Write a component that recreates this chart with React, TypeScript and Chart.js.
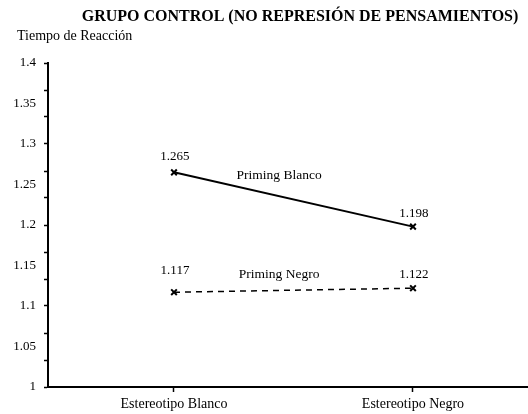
import React, { useEffect, useRef } from "react";
import { Chart, registerables } from "chart.js";

Chart.register(...registerables);

const chartTitle = "GRUPO CONTROL (NO REPRESIÓN DE PENSAMIENTOS)";
const yAxisTitle = "Tiempo de Reacción";
const categories = ["Estereotipo Blanco", "Estereotipo Negro"];
const seriesNames = ["Priming Blanco", "Priming Negro"];
const primingBlanco = [1.265, 1.198];
const primingNegro = [1.117, 1.122];
const yLabelTicks = [1, 1.05, 1.1, 1.15, 1.2, 1.25, 1.3, 1.35, 1.4];
const yMin = 1;
const yMax = 1.4;
const yMarkCount = 12;

const FONT = '"Liberation Serif", "Times New Roman", serif';

const near = (a: number, b: number) => Math.abs(a - b) < 1e-6;
const isLabelTick = (v: number) => yLabelTicks.some((t) => near(t, v));
const isMarkTick = (v: number) => {
  for (let i = 0; i <= yMarkCount; i++) {
    if (near(yMin + (i * (yMax - yMin)) / yMarkCount, v)) return true;
  }
  return false;
};

const labelPlugin = {
  id: "labelPlugin",
  afterDatasetsDraw(chart: any) {
    const ctx = chart.ctx;
    ctx.save();
    ctx.fillStyle = "#000";
    ctx.textBaseline = "middle";

    ctx.font = `bold 16px ${FONT}`;
    ctx.textAlign = "center";
    ctx.fillText(chartTitle, 300, 17);

    ctx.font = `14px ${FONT}`;
    ctx.textAlign = "left";
    ctx.fillText(yAxisTitle, 17, 36);

    const valueOffsets = [
      [16, 13],
      [22, 14],
    ];
    const nameOffsets = [21, 16];
    const nameFrac = 0.44;
    const xs = chart.scales.x;
    const ys = chart.scales.y;

    chart.data.datasets.forEach((ds: any, di: number) => {
      const meta = chart.getDatasetMeta(di);
      ctx.font = `13px ${FONT}`;
      ctx.textAlign = "center";
      meta.data.forEach((pt: any, i: number) => {
        const v = ds.data[i].y;
        ctx.fillText(v.toFixed(3), pt.x + 1, pt.y - valueOffsets[di][i]);
      });
      const d = ds.data;
      const interp = d[0].y + (d[1].y - d[0].y) * nameFrac;
      const px = xs.getPixelForValue(d[0].x + (d[1].x - d[0].x) * nameFrac);
      const py = ys.getPixelForValue(interp) - nameOffsets[di];
      ctx.font = `13.5px ${FONT}`;
      ctx.fillText(ds.label, px, py);
    });
    ctx.restore();
  },
};

export default function App() {
  const ref = useRef<HTMLCanvasElement | null>(null);

  useEffect(() => {
    document.body.style.margin = "0";
    const canvas = ref.current;
    if (!canvas) return;

    const toPoints = (vals: number[]) => vals.map((v, i) => ({ x: i, y: v }));

    const chart = new Chart(canvas, {
      type: "line",
      data: {
        datasets: [
          {
            label: seriesNames[0],
            data: toPoints(primingBlanco),
            borderColor: "#000",
            backgroundColor: "#000",
            borderWidth: 2,
            pointStyle: "crossRot",
            pointRadius: 4,
            pointBorderWidth: 2,
            pointBorderColor: "#000",
            fill: false,
          },
          {
            label: seriesNames[1],
            data: toPoints(primingNegro),
            borderColor: "#000",
            backgroundColor: "#000",
            borderWidth: 1.5,
            borderDash: [6, 5],
            pointStyle: "crossRot",
            pointRadius: 4,
            pointBorderWidth: 2,
            pointBorderColor: "#000",
            fill: false,
          },
        ],
      },
      options: {
        animation: false,
        responsive: false,
        maintainAspectRatio: false,
        layout: { autoPadding: false, padding: { top: 63, left: 0, right: 0, bottom: 0 } },
        plugins: {
          legend: { display: false },
          title: { display: false },
          tooltip: { enabled: false },
        },
        scales: {
          x: {
            type: "linear",
            min: -0.5272,
            max: 1.4812,
            afterBuildTicks: (scale: any) => {
              scale.ticks = categories.map((_, i) => ({ value: i }));
            },
            afterFit: (scale: any) => {
              scale.height = 27;
            },
            ticks: {
              autoSkip: false,
              maxRotation: 0,
              padding: 4,
              color: "#000",
              font: { family: FONT, size: 14 },
              callback: (v: any) => categories[Math.round(Number(v))] ?? "",
            },
            grid: {
              display: true,
              drawOnChartArea: false,
              drawTicks: true,
              tickLength: 5,
              tickWidth: 1.5,
              tickColor: "#000",
            },
            border: { display: true, color: "#000", width: 2 },
          },
          y: {
            type: "linear",
            min: yMin,
            max: yMax,
            afterBuildTicks: (scale: any) => {
              const vals: number[] = [...yLabelTicks];
              for (let i = 0; i <= yMarkCount; i++) {
                const v = yMin + (i * (yMax - yMin)) / yMarkCount;
                if (!vals.some((t) => near(t, v))) vals.push(v);
              }
              vals.sort((a, b) => a - b);
              scale.ticks = vals.map((v) => ({ value: v }));
            },
            afterFit: (scale: any) => {
              scale.width = 48;
            },
            ticks: {
              autoSkip: false,
              padding: 8,
              color: "#000",
              font: { family: FONT, size: 13 },
              callback: (v: any) => (isLabelTick(Number(v)) ? String(+Number(v).toFixed(2)) : ""),
            },
            grid: {
              display: true,
              drawOnChartArea: false,
              drawTicks: true,
              tickLength: 4,
              tickWidth: 1.5,
              tickColor: (c: any) =>
                c.tick && isMarkTick(c.tick.value) ? "#000" : "rgba(0,0,0,0)",
            },
            border: { display: true, color: "#000", width: 2 },
          },
        },
      },
      plugins: [labelPlugin],
    } as any);

    return () => chart.destroy();
  }, []);

  return (
    <div style={{ width: 528, height: 414 }}>
      <canvas ref={ref} width={528} height={414} style={{ display: "block" }} />
    </div>
  );
}
